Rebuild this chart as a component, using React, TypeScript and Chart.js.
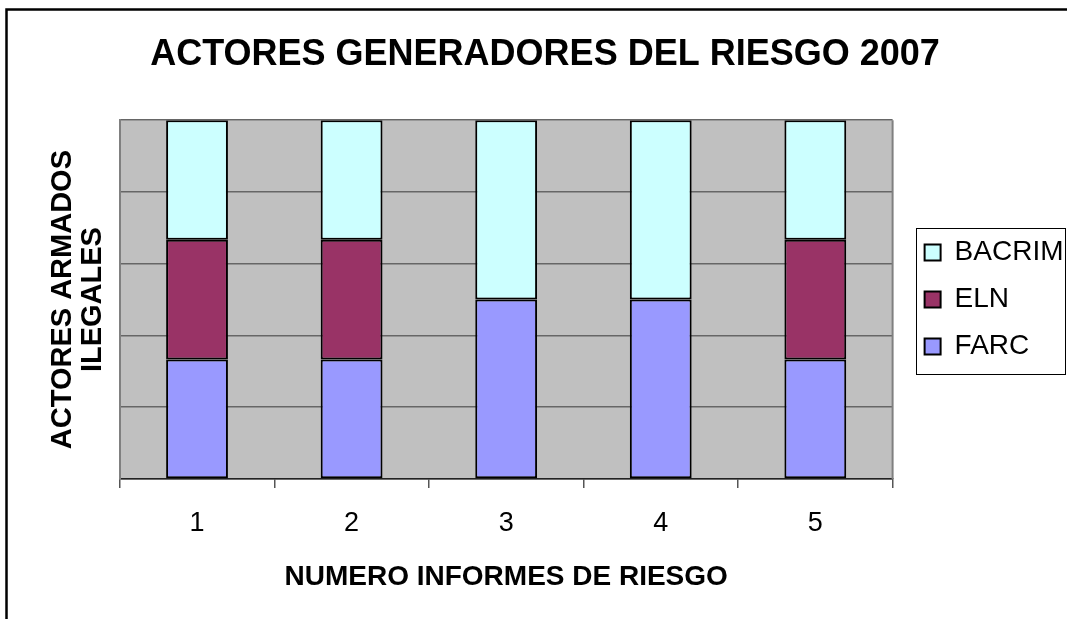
import React, { useEffect, useRef } from "react";
import { Chart, registerables } from "chart.js";

Chart.register(...registerables);

const categories = ["1", "2", "3", "4", "5"];
const farcValues = [1, 1, 1, 1, 1];
const elnValues = [1, 1, 0, 0, 1];
const bacrimValues = [1, 1, 1, 1, 1];
const seriesNames = ["FARC", "ELN", "BACRIM"];
const seriesColors = ["#9999FF", "#993366", "#CCFFFF"];

const chartTitle = "ACTORES GENERADORES DEL RIESGO 2007";
const xTitle = "NUMERO INFORMES DE RIESGO";
const yTitle = ["ACTORES ARMADOS", "ILEGALES"];

const FONT = "'Liberation Sans', Arial, Helvetica, sans-serif";

const totals = categories.map((_, i) => farcValues[i] + elnValues[i] + bacrimValues[i]);
const pct = (arr: number[]) => arr.map((v, i) => (v / totals[i]) * 100);

const framePlugin = {
  id: "framePlugin",
  beforeDraw(chart: any) {
    const { ctx, chartArea } = chart;
    ctx.save();
    ctx.fillStyle = "#FFFFFF";
    ctx.fillRect(0, 0, chart.width, chart.height);
    ctx.fillStyle = "#C0C0C0";
    ctx.fillRect(chartArea.left, chartArea.top, chartArea.right - chartArea.left, chartArea.bottom - chartArea.top);
    ctx.restore();
  },
  afterDraw(chart: any) {
    const { ctx, chartArea } = chart;
    ctx.save();
    ctx.strokeStyle = "#000000";
    ctx.lineWidth = 2.5;
    ctx.beginPath();
    ctx.moveTo(6.5, chart.height + 5);
    ctx.lineTo(6.5, 9.5);
    ctx.lineTo(chart.width + 5, 9.5);
    ctx.stroke();
    ctx.strokeStyle = "#808080";
    ctx.lineWidth = 2;
    ctx.beginPath();
    ctx.moveTo(chartArea.right, chartArea.top);
    ctx.lineTo(chartArea.right, chartArea.bottom);
    ctx.stroke();
    const lg = chart.legend;
    if (lg && lg.legendHitBoxes && lg.legendHitBoxes.length) {
      const hb = lg.legendHitBoxes;
      let minL = Infinity, minT = Infinity, maxR = -Infinity, maxB = -Infinity;
      hb.forEach((h: any) => {
        minL = Math.min(minL, h.left);
        minT = Math.min(minT, h.top);
        maxR = Math.max(maxR, h.left + h.width);
        maxB = Math.max(maxB, h.top + h.height);
      });
      ctx.strokeStyle = "#000000";
      ctx.lineWidth = 1;
      const l = Math.round(minL - 9) + 0.5;
      const t = Math.round(minT - 11) + 0.5;
      const r = Math.round(maxR + 1) + 0.5;
      const b = Math.round(maxB + 13) + 0.5;
      ctx.strokeRect(l, t, r - l, b - t);
    }
    ctx.restore();
  },
};

export default function App() {
  const canvasRef = useRef<HTMLCanvasElement | null>(null);

  useEffect(() => {
    const canvas = canvasRef.current;
    if (!canvas) return;
    const datasets = [farcValues, elnValues, bacrimValues].map((vals, k) => ({
      label: seriesNames[k],
      data: pct(vals),
      backgroundColor: seriesColors[k],
      borderColor: "#000000",
      borderWidth: 2,
      borderSkipped: false as const,
      barPercentage: 0.4,
      categoryPercentage: 1.0,
      stack: "s",
    }));
    const chart = new Chart(canvas, {
      type: "bar",
      data: { labels: categories, datasets },
      options: {
        responsive: false,
        animation: false,
        layout: { padding: { left: 16.5, right: 16.5, top: 0, bottom: 0 } },
        plugins: {
          tooltip: { enabled: false },
          title: {
            display: true,
            text: chartTitle,
            color: "#000000",
            font: { family: FONT, size: 36, weight: "bold" },
            padding: { top: 33, bottom: 44 },
          },
          legend: {
            position: "right",
            align: "center",
            fullSize: false,
            reverse: true,
            labels: {
              boxWidth: 16,
              boxHeight: 16,
              padding: 19,
              color: "#000000",
              font: { family: FONT, size: 28 },
            },
          },
        },
        scales: {
          x: {
            stacked: true,
            offset: true,
            grid: {
              display: true,
              offset: true,
              drawOnChartArea: false,
              drawTicks: true,
              tickLength: 9,
              color: "#555555",
              lineWidth: 1.5,
            },
            border: { display: true, color: "#222222", width: 1.5 },
            ticks: {
              color: "#000000",
              padding: 19,
              font: { family: FONT, size: 27 },
            },
            title: {
              display: true,
              text: xTitle,
              color: "#000000",
              font: { family: FONT, size: 28, weight: "bold" },
              padding: { top: 2, bottom: 25 },
            },
          },
          y: {
            stacked: true,
            min: 0,
            max: 100,
            ticks: { display: false, stepSize: 20 },
            grid: { color: "#666666", lineWidth: 1.5, drawTicks: false },
            border: { display: true, color: "#808080", width: 2 },
            title: {
              display: true,
              text: yTitle,
              color: "#000000",
              font: { family: FONT, size: 29, weight: "bold", lineHeight: 1.03 },
              padding: { top: 31.5, bottom: 12 },
            },
          },
          y2: {
            type: "linear",
            position: "right",
            display: true,
            grid: { display: false },
            ticks: { display: false },
            border: { display: false },
            afterFit: (s: any) => {
              s.width = 13;
            },
          },
        },
      },
      plugins: [framePlugin],
    });
    return () => chart.destroy();
  }, []);

  return (
    <div style={{ position: "absolute", left: 0, top: 0, width: 1067, height: 619, overflow: "hidden", background: "#fff" }}>
      <canvas ref={canvasRef} width={1090} height={619} style={{ width: 1090, height: 619, display: "block" }} />
    </div>
  );
}
